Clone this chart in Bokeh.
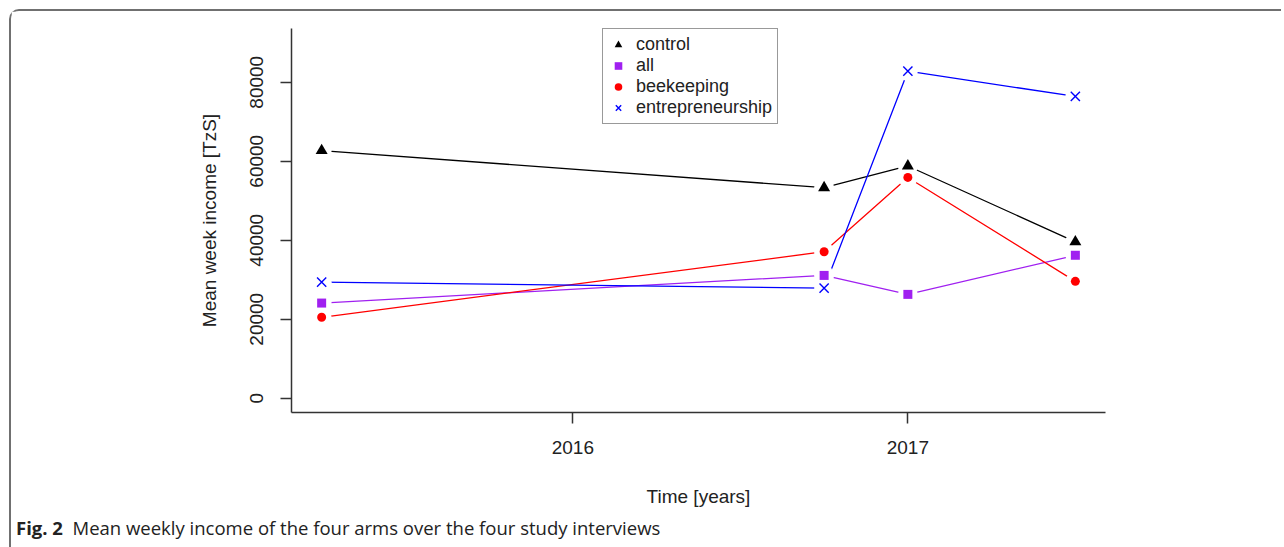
from bokeh.plotting import figure
from bokeh.models import (Range1d, FixedTicker, Legend, LegendItem, ColumnDataSource, Div)
from bokeh.layouts import column
from bokeh.embed import file_html
from bokeh.resources import INLINE

# ---- data ----
times = [2015.25, 2016.75, 2017.0, 2017.5]
control = [62700, 53300, 58800, 39600]
all_arm = [24100, 31100, 26300, 36200]
beekeeping = [20500, 37100, 55900, 29600]
entrepreneurship = [29400, 27900, 82800, 76400]

series_names = ["control", "all", "beekeeping", "entrepreneurship"]
series_values = [control, all_arm, beekeeping, entrepreneurship]
series_colors = ["black", "#A020F0", "red", "blue"]
series_markers = ["triangle", "square", "circle", "x"]
series_sizes = [12, 9, 9, 13]

y_ticks = [0, 20000, 40000, 60000, 80000]
y_tick_labels = ["0", "20000", "40000", "60000", "80000"]
x_ticks = [2016, 2017]
x_tick_labels = ["2016", "2017"]

FONT = "Liberation Sans"
TXT = "#222222"

p = figure(width=1260, height=501, output_backend="svg", toolbar_location=None,
           x_range=Range1d(2015.16, 2017.59), y_range=Range1d(-3600, 93600),
           min_border_left=280, min_border_right=166, min_border_top=17,
           min_border_bottom=100)
p.title.visible = False
p.outline_line_color = None
p.xgrid.visible = False
p.ygrid.visible = False
p.background_fill_color = "white"
p.border_fill_color = "white"

sources = [ColumnDataSource(dict(x=times, y=vals)) for vals in series_values]

# lines underneath
for src, col in zip(sources, series_colors):
    p.line("x", "y", source=src, line_color=col, line_width=1.3, level="underlay")

# gaps around points (R type="b")
for src in sources:
    p.scatter("x", "y", source=src, marker="circle", size=20,
              fill_color="white", fill_alpha=1.0, line_color=None, level="glyph")

# markers on top
items = []
for name, src, col, mk, sz in zip(series_names, sources, series_colors,
                                  series_markers, series_sizes):
    if mk == "x":
        r = p.scatter("x", "y", source=src, marker="x", size=sz,
                      line_color=col, line_width=1.4, level="overlay")
    else:
        r = p.scatter("x", "y", source=src, marker=mk, size=sz,
                      fill_color=col, line_color=None, level="overlay")
    items.append(LegendItem(label=name, renderers=[r]))

legend = Legend(items=items, location=(311, 288), orientation="vertical",
                border_line_color="#333333", border_line_width=1.5,
                background_fill_color="white", background_fill_alpha=1.0,
                padding=5, margin=0, spacing=0, label_standoff=8,
                glyph_width=20, glyph_height=19, label_height=19,
                label_text_font=FONT, label_text_font_size="18px",
                label_text_color=TXT, label_text_line_height=1.0)
p.add_layout(legend, "center")

for ax in (p.xaxis[0], p.yaxis[0]):
    ax.axis_line_color = "#333333"
    ax.axis_line_width = 1.5
    ax.major_tick_line_color = "#333333"
    ax.major_tick_line_width = 1.5
    ax.major_tick_out = 11
    ax.major_tick_in = 0
    ax.minor_tick_line_color = None
    ax.major_label_text_font = FONT
    ax.major_label_text_font_size = "19px"
    ax.major_label_text_color = TXT
    ax.axis_label_text_font = FONT
    ax.axis_label_text_font_size = "19px"
    ax.axis_label_text_font_style = "normal"
    ax.axis_label_text_color = TXT

p.yaxis[0].ticker = FixedTicker(ticks=y_ticks)
p.yaxis[0].major_label_overrides = dict(zip(y_ticks, y_tick_labels))
p.yaxis[0].major_label_orientation = "vertical"
p.yaxis[0].major_label_standoff = 17
p.yaxis[0].axis_label = "Mean week income [TzS]"
p.yaxis[0].axis_label_standoff = 28

p.xaxis[0].ticker = FixedTicker(ticks=x_ticks)
p.xaxis[0].major_label_overrides = dict(zip(x_ticks, x_tick_labels))
p.xaxis[0].major_label_standoff = 17
p.xaxis[0].axis_label = "Time [years]"
p.xaxis[0].axis_label_standoff = 29

caption = Div(text="<b>Fig. 2</b>&nbsp; Mean weekly income of the four arms over the four study interviews",
              width=1260, height=28,
              styles={"font-family": "Open Sans", "font-size": "18.5px", "color": TXT,
                      "padding-left": "0px", "padding-top": "0px", "line-height": "22px"})

layout = column(p, caption, spacing=0,
                styles={"border-left": "2px solid #707070", "border-top": "2px solid #707070",
                        "border-top-left-radius": "10px", "margin-left": "9px",
                        "margin-top": "9px", "background": "white"})

open("out.html", "w").write(file_html(layout, INLINE))
